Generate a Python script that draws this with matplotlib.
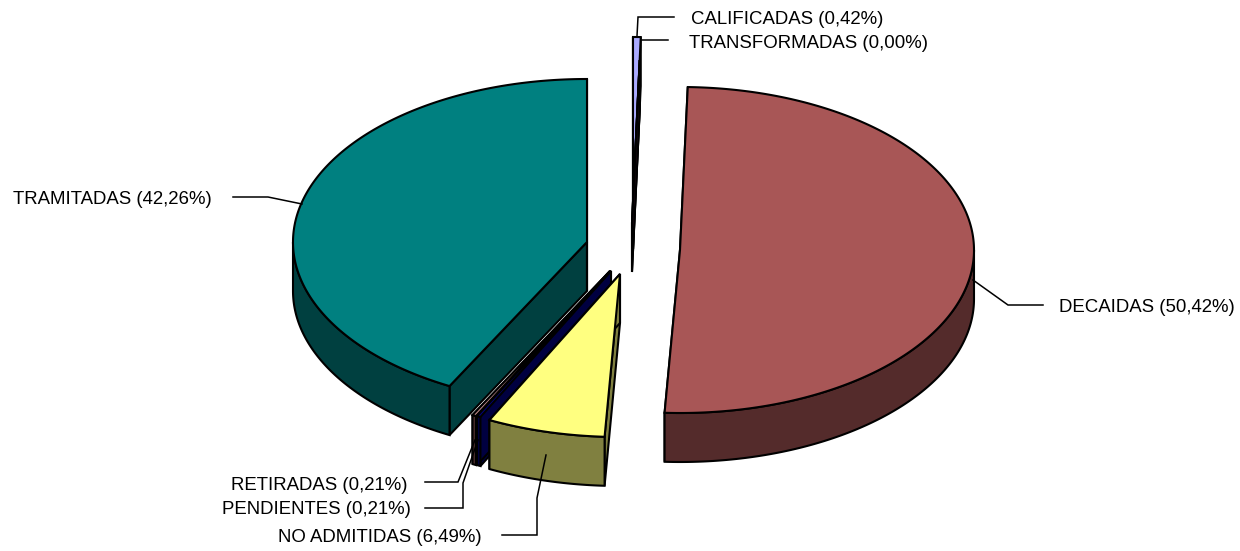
import numpy as np
import matplotlib
matplotlib.use('Agg')
import matplotlib.pyplot as plt
from matplotlib.patches import Polygon

plt.rcParams['font.family'] = ['Liberation Sans', 'DejaVu Sans']

# clockwise from 12 o'clock
categories = ['CALIFICADAS', 'TRANSFORMADAS', 'DECAIDAS', 'NO ADMITIDAS',
              'PENDIENTES', 'RETIRADAS', 'TRAMITADAS']
values = [0.42, 0.00, 50.42, 6.49, 0.21, 0.21, 42.26]

# styling, same order as categories
top_colors = ['#aaaaff', '#993366', '#a85656', '#ffff80', '#000080', '#c89090', '#008080']
side_colors = ['#555580', '#4d1a33', '#542b2b', '#808040', '#000040', '#4a2e2e', '#004040']
apex_x = [633, 632, 680, 620, 611, 610, 587]
apex_y = [200, 223, 250, 274, 271, 271, 242]
draw_order = [6, 5, 4, 3, 2, 0, 1]

label_x = [691, 689, 1059, 278, 222, 231, 13]
label_y = [19, 43, 307, 537, 510, 485, 200]
leaders = [
    [(637, 36), (638, 17), (674, 17)],
    [(642, 40), (668, 40)],
    [(973, 280), (1008, 305), (1043, 305)],
    [(546, 455), (537, 498), (537, 535), (502, 535)],
    [(478, 440), (463, 483), (463, 508), (425, 508)],
    [(475, 440), (458, 482), (425, 482)],
    [(302, 204), (268, 197), (233, 197)],
]

RX, RY, DEPTH = 294, 163, 49
LW = 1.5

fig = plt.figure(figsize=(12.4, 5.51), dpi=100)
ax = fig.add_axes([0, 0, 1, 1])
ax.set_xlim(0, 1240)
ax.set_ylim(551, 0)
ax.axis('off')


def rim(cx, cy, a0, a1, dy=0):
    t = np.radians(np.linspace(a0, a1, max(int(abs(a1 - a0) * 2), 2)))
    return np.column_stack([cx + RX * np.sin(t), cy - RY * np.cos(t) + dy])


def poly(pts, color, z):
    ax.add_patch(Polygon(pts, closed=True, facecolor=color, edgecolor='black',
                         linewidth=LW, joinstyle='miter', zorder=z))


edges = np.cumsum([0] + values) / sum(values) * 360

for n, i in enumerate(draw_order):
    a0, a1 = edges[i], edges[i + 1]
    cx, cy = apex_x[i], apex_y[i]
    z = 2 + n
    # cut faces
    for a in (a0, a1):
        p = rim(cx, cy, a, a)[0]
        poly([(cx, cy), p, (p[0], p[1] + DEPTH), (cx, cy + DEPTH)], side_colors[i], z)
    # outer wall, only the front half shows
    w0, w1 = max(a0, 90), min(a1, 270)
    if w1 > w0:
        poly(np.vstack([rim(cx, cy, w0, w1), rim(cx, cy, w1, w0, DEPTH)]), side_colors[i], z)
    # top face
    poly(np.vstack([[(cx, cy)], rim(cx, cy, a0, a1)]), top_colors[i], z)

for pts in leaders:
    xs, ys = zip(*pts)
    ax.plot(xs, ys, color='black', lw=1.1, zorder=20, solid_joinstyle='miter')

for name, v, x, y in zip(categories, values, label_x, label_y):
    txt = '%s (%.2f%%)' % (name, v)
    ax.text(x, y, txt.replace('.', ','), fontsize=13.4, color='black',
            ha='left', va='center', zorder=21)

fig.savefig('out.png', dpi=100)
